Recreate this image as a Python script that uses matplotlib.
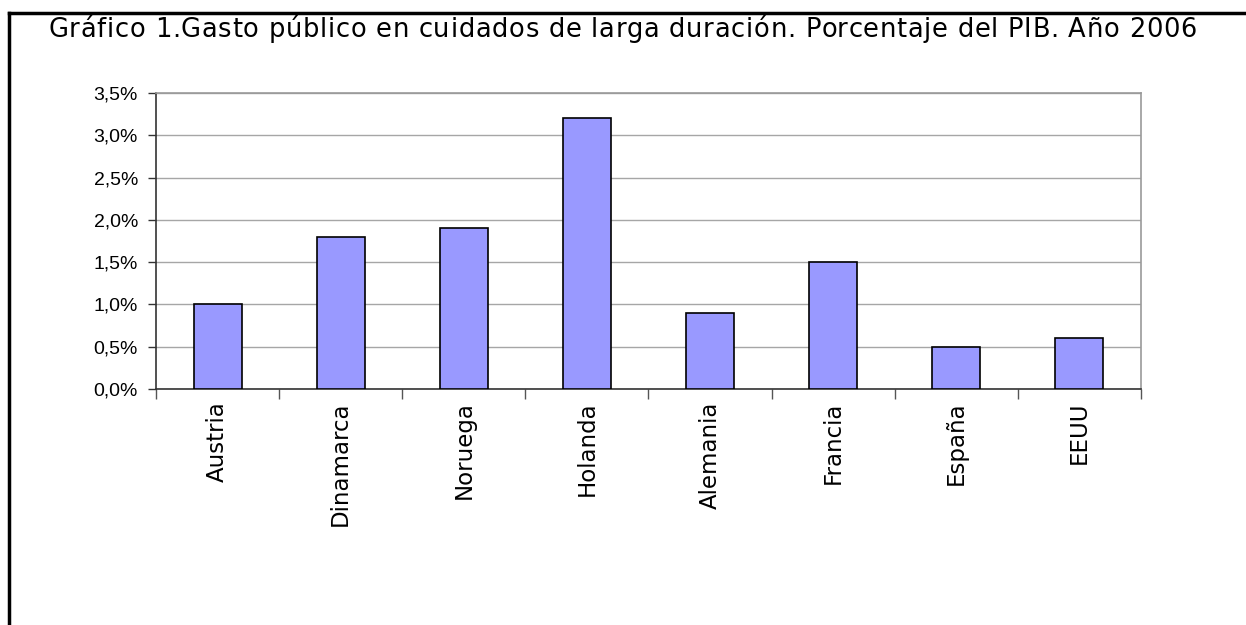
import numpy as np
import matplotlib
matplotlib.use("Agg")
import matplotlib.pyplot as plt
from matplotlib.ticker import FuncFormatter
from matplotlib.font_manager import FontProperties

paises = ["Austria", "Dinamarca", "Noruega", "Holanda", "Alemania", "Francia", "España", "EEUU"]
gasto = [1.0, 1.8, 1.9, 3.2, 0.9, 1.5, 0.5, 0.6]
y_ticks = [0.0, 0.5, 1.0, 1.5, 2.0, 2.5, 3.0, 3.5]
titulo = "Gráfico 1.Gasto público en cuidados de larga duración. Porcentaje del PIB. Año 2006"

fig = plt.figure(figsize=(12.46, 6.25), dpi=100)
ax = fig.add_axes([156 / 1246, 1 - 389 / 625, (1141 - 156) / 1246, (389 - 93) / 625])

x = np.arange(len(paises))
ax.bar(x, gasto, width=0.39, color="#9999FF", edgecolor="black", linewidth=1.2, zorder=3)

ax.set_xlim(-0.5, len(paises) - 0.5)
ax.set_ylim(0, 3.5)
ax.set_yticks(y_ticks)
ax.yaxis.set_major_formatter(FuncFormatter(lambda v, p: ("%.1f%%" % v).replace(".", ",")))
ax.grid(axis="y", color="#a6a6a6", linewidth=1, zorder=0)

# ticks between categories, labels at centers
ax.set_xticks(np.arange(-0.5, len(paises), 1.0))
ax.set_xticklabels([])
ax.set_xticks(x, minor=True)
ax.set_xticklabels(paises, minor=True, rotation=90, family="DejaVu Sans", fontsize=16.5)
ax.tick_params(axis="x", which="minor", length=0, pad=9)
ax.tick_params(axis="x", which="major", length=7, color="#555555", width=1, direction="out")
ax.tick_params(axis="y", length=6, color="#333333", width=1, labelsize=14, pad=7)
for lab in ax.get_yticklabels():
    lab.set_family("Liberation Sans")

ax.spines["left"].set_color("#333333")
ax.spines["bottom"].set_color("#333333")
ax.spines["right"].set_color("#999999")
ax.spines["top"].set_color("#999999")
for s in ax.spines.values():
    s.set_linewidth(1.2)

# frame of the document box
fig.add_artist(plt.Line2D([9 / 1246, 9 / 1246], [0, 1 - 13 / 625], color="black", linewidth=2.5))
fig.add_artist(plt.Line2D([9 / 1246, 1], [1 - 13 / 625, 1 - 13 / 625], color="black", linewidth=2.5))

# title, slightly letter-spaced to span the same width as the original
prop = FontProperties(family="DejaVu Sans", size=18.5)
renderer = fig.canvas.get_renderer()
x0, x1 = 48, 1197
full_w = renderer.get_text_width_height_descent(titulo, prop, ismath=False)[0]
extra = max(0, (x1 - x0 - full_w) / (len(titulo) - 1))
for i, ch in enumerate(titulo):
    w = renderer.get_text_width_height_descent(titulo[:i], prop, ismath=False)[0] if i else 0
    fig.text((x0 + w + i * extra) / 1246, 1 - 37 / 625, ch, fontproperties=prop,
             ha="left", va="baseline")

fig.savefig("out.png", dpi=100, facecolor="white")
